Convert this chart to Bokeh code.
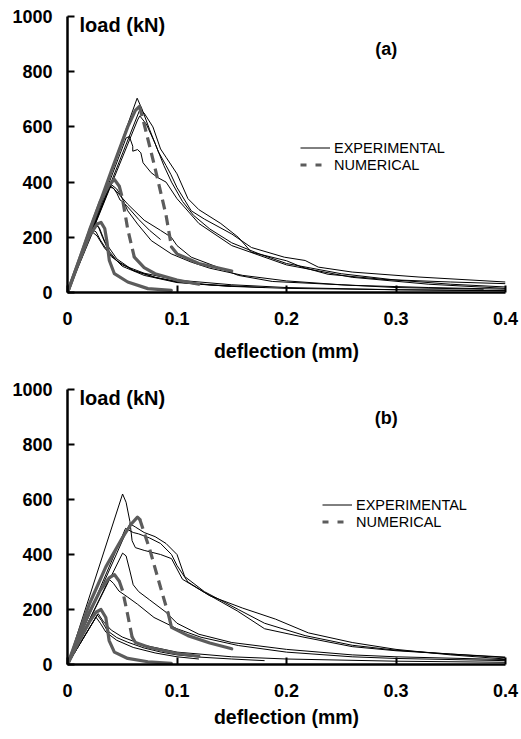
from bokeh.plotting import figure
from bokeh.models import (Range1d, FixedTicker, CustomJSTickFormatter, Label,
                          Legend, LegendItem)
from bokeh.layouts import column
from bokeh.embed import file_html
from bokeh.resources import INLINE

# ---------------- data ----------------
x_ticks = [0, 0.1, 0.2, 0.3, 0.4]
y_ticks = [0, 200, 400, 600, 800, 1000]

# panel (a) experimental
a_exp1_x = [0, 0.0636, 0.068, 0.075, 0.083, 0.09, 0.0945, 0.1, 0.113, 0.125, 0.15, 0.168, 0.198, 0.217, 0.229, 0.26, 0.321, 0.4]
a_exp1_y = [0, 704, 665, 590, 510, 460, 427, 380, 296, 266, 212, 163, 128, 116, 92, 74, 56, 38]
a_exp2_x = [0, 0.066, 0.07, 0.078, 0.085, 0.09, 0.1, 0.11, 0.12, 0.14, 0.156, 0.168, 0.2, 0.214, 0.238, 0.29, 0.35, 0.4]
a_exp2_y = [0, 662, 650, 600, 520, 490, 430, 340, 300, 250, 200, 146, 115, 92, 66, 47, 38, 32]
a_exp3_x = [0, 0.064, 0.066, 0.072, 0.08, 0.088, 0.095, 0.105, 0.115, 0.13, 0.15, 0.175, 0.2, 0.25, 0.3, 0.35, 0.4]
a_exp3_y = [0, 625, 640, 610, 540, 460, 400, 330, 280, 230, 180, 140, 105, 68, 45, 30, 20]
a_exp4_x = [0, 0.0535, 0.0565, 0.0596, 0.0596, 0.064, 0.067, 0.069, 0.0764, 0.0826, 0.09, 0.1, 0.12, 0.15, 0.2, 0.26, 0.33, 0.4]
a_exp4_y = [0, 560, 565, 530, 512, 518, 506, 470, 434, 416, 400, 340, 250, 170, 100, 55, 30, 15]
a_exp5_x = [0, 0.0397, 0.045, 0.0489, 0.055, 0.064, 0.0765, 0.0948, 0.113, 0.13, 0.16, 0.2, 0.25, 0.3, 0.38]
a_exp5_y = [0, 392, 375, 350, 296, 248, 188, 140, 110, 88, 62, 42, 28, 18, 12]
a_exp6_x = [0, 0.038, 0.042, 0.045, 0.048, 0.05, 0.055, 0.065, 0.075, 0.085]
a_exp6_y = [0, 382, 378, 360, 335, 330, 310, 265, 225, 192]
a_exp7_x = [0, 0.036, 0.04, 0.045, 0.055, 0.07, 0.085, 0.0948, 0.1, 0.113, 0.137, 0.156, 0.187, 0.26, 0.33, 0.4]
a_exp7_y = [0, 375, 385, 365, 320, 262, 225, 200, 170, 128, 92, 62, 40, 26, 18, 12]
a_exp8_x = [0, 0.0245, 0.028, 0.032, 0.037, 0.045, 0.06, 0.08, 0.1, 0.13, 0.18]
a_exp8_y = [0, 262, 240, 200, 155, 115, 80, 55, 40, 28, 18]
a_exp9_x = [0, 0.022, 0.026, 0.03, 0.04, 0.05, 0.07, 0.1, 0.15, 0.2, 0.3, 0.4]
a_exp9_y = [0, 228, 220, 190, 130, 100, 70, 45, 28, 18, 10, 6]
a_exp10_x = [0, 0.025, 0.029, 0.034, 0.045, 0.06, 0.08, 0.1, 0.12, 0.15]
a_exp10_y = [0, 245, 235, 185, 122, 80, 55, 38, 30, 22]
a_exp11_x = [0, 0.023, 0.027, 0.034, 0.05, 0.07, 0.1, 0.15, 0.2, 0.3, 0.4]
a_exp11_y = [0, 218, 205, 160, 95, 62, 36, 22, 15, 10, 7]

# panel (a) numerical (sudden drop stretch given by index pair)
a_num1_x = [0, 0.02, 0.04, 0.055, 0.062, 0.0657, 0.07, 0.08, 0.09, 0.095, 0.1, 0.12, 0.15]
a_num1_y = [0, 220, 440, 600, 660, 674, 610, 450, 280, 165, 140, 105, 78]
a_num1_drop = (5, 9)
a_num2_x = [0, 0.01, 0.02, 0.03, 0.038, 0.0428, 0.0473, 0.05, 0.055, 0.061, 0.07, 0.08, 0.1, 0.12]
a_num2_y = [0, 110, 225, 330, 390, 410, 385, 344, 230, 128, 90, 68, 45, 30]
a_num2_drop = (6, 9)
a_num3_x = [0, 0.01, 0.02, 0.027, 0.0306, 0.034, 0.036, 0.0382, 0.0428, 0.055, 0.0734, 0.0948]
a_num3_y = [0, 105, 205, 248, 254, 232, 185, 116, 68, 38, 14, 8]
a_num3_drop = None

# panel (b) experimental
b_exp1_x = [0, 0.0503, 0.0535, 0.057, 0.059, 0.062, 0.07, 0.085, 0.095, 0.105, 0.125, 0.155, 0.18, 0.215, 0.26, 0.3, 0.35, 0.4]
b_exp1_y = [0, 620, 590, 520, 450, 425, 415, 400, 385, 310, 262, 195, 130, 100, 65, 50, 38, 27]
b_exp2_x = [0, 0.057, 0.062, 0.07, 0.08, 0.09, 0.1, 0.107, 0.125, 0.156, 0.18, 0.217, 0.26, 0.3, 0.35, 0.4]
b_exp2_y = [0, 512, 500, 480, 465, 440, 400, 320, 265, 200, 150, 105, 70, 52, 38, 25]
b_exp3_x = [0, 0.053, 0.06, 0.065, 0.075, 0.085, 0.095, 0.1, 0.11, 0.13, 0.16, 0.19, 0.22, 0.26, 0.3, 0.35, 0.4]
b_exp3_y = [0, 495, 480, 475, 460, 440, 400, 360, 300, 250, 205, 165, 115, 80, 55, 35, 20]
b_exp4_x = [0, 0.0503, 0.0535, 0.057, 0.06, 0.065, 0.075, 0.09, 0.1, 0.12, 0.15, 0.2, 0.26, 0.3, 0.4]
b_exp4_y = [0, 405, 395, 340, 290, 265, 235, 190, 150, 110, 80, 55, 35, 28, 18]
b_exp5_x = [0, 0.038, 0.042, 0.047, 0.055, 0.064, 0.079, 0.095, 0.1, 0.122, 0.156, 0.2, 0.26, 0.3, 0.4]
b_exp5_y = [0, 310, 295, 267, 245, 219, 171, 140, 130, 99, 69, 45, 28, 22, 14]
b_exp6_x = [0, 0.0272, 0.031, 0.0364, 0.045, 0.055, 0.07, 0.0856, 0.1, 0.12, 0.15, 0.18]
b_exp6_y = [0, 180, 160, 123, 98, 81, 60, 45, 35, 27, 20, 14]
b_exp7_x = [0, 0.026, 0.03, 0.035, 0.045, 0.06, 0.08, 0.1, 0.12]
b_exp7_y = [0, 172, 150, 118, 88, 62, 42, 28, 20]
b_exp8_x = [0, 0.028, 0.033, 0.04, 0.05, 0.07, 0.1, 0.15, 0.2, 0.3, 0.4]
b_exp8_y = [0, 185, 155, 125, 100, 70, 45, 28, 20, 12, 8]

# panel (b) numerical
b_num1_x = [0, 0.02, 0.035, 0.05, 0.058, 0.0639, 0.066, 0.075, 0.085, 0.092, 0.095, 0.11, 0.13, 0.15]
b_num1_y = [0, 220, 355, 460, 510, 536, 528, 420, 280, 185, 135, 105, 78, 57]
b_num1_drop = (6, 9)
b_num2_x = [0, 0.01, 0.02, 0.03, 0.038, 0.0428, 0.0473, 0.0504, 0.055, 0.059, 0.062, 0.075, 0.1, 0.12]
b_num2_y = [0, 95, 190, 270, 315, 327, 303, 267, 180, 100, 80, 62, 40, 30]
b_num2_drop = (6, 9)
b_num3_x = [0, 0.01, 0.02, 0.026, 0.0306, 0.035, 0.038, 0.0428, 0.055, 0.0734, 0.0948]
b_num3_y = [0, 80, 155, 190, 200, 171, 87, 45, 22, 10, 4]
b_num3_drop = None

FONT = "Liberation Sans"
NUM_COLOR = "#5c5c5c"
NAN = float("nan")


def split_num(xs, ys, drop):
    solid_x, solid_y, dash_x, dash_y = [], [], [], []
    if drop is None:
        solid_x.append(xs); solid_y.append(ys)
    else:
        i0, i1 = drop
        solid_x.append(xs[:i0 + 1]); solid_y.append(ys[:i0 + 1])
        dash_x.append(xs[i0:i1 + 1]); dash_y.append(ys[i0:i1 + 1])
        solid_x.append(xs[i1:]); solid_y.append(ys[i1:])
    return solid_x, solid_y, dash_x, dash_y


def make_panel(exps, nums, tag, tag_y, leg_loc, height, mbt, mbb, label_standoff):
    p = figure(width=519, height=height, x_range=Range1d(0, 0.4), y_range=Range1d(0, 1000),
               output_backend="svg", toolbar_location=None,
               min_border_left=67, min_border_right=14, min_border_top=mbt, min_border_bottom=mbb)
    p.outline_line_color = None
    p.grid.visible = False
    p.background_fill_color = "white"
    p.border_fill_color = "white"

    for ax in (p.xaxis[0], p.yaxis[0]):
        ax.axis_line_width = 2.5
        ax.axis_line_color = "black"
        ax.major_tick_line_width = 2
        ax.major_tick_line_color = "black"
        ax.major_tick_in = 7
        ax.major_tick_out = 0
        ax.minor_tick_line_color = None
        ax.major_label_text_font = FONT
        ax.major_label_text_font_style = "bold"
        ax.major_label_text_font_size = "18px"
        ax.major_label_text_color = "black"

    p.xaxis.ticker = FixedTicker(ticks=x_ticks)
    p.xaxis.formatter = CustomJSTickFormatter(code="return tick === 0 ? '0' : tick.toFixed(1);")
    p.yaxis.ticker = FixedTicker(ticks=y_ticks)
    p.xaxis.major_label_standoff = 19
    p.yaxis.major_label_standoff = 15
    p.xaxis.axis_label = "deflection (mm)"
    p.xaxis.axis_label_text_font = FONT
    p.xaxis.axis_label_text_font_style = "bold"
    p.xaxis.axis_label_text_font_size = "19.5px"
    p.xaxis.axis_label_text_color = "black"
    p.xaxis.axis_label_standoff = label_standoff

    # experimental curves
    ex = [c[0] for c in exps]
    ey = [c[1] for c in exps]
    p.multi_line(xs=ex, ys=ey, line_color="black", line_width=1)

    sx, sy, dx, dy = [], [], [], []
    for xs, ys, drop in nums:
        a, b, c, d = split_num(xs, ys, drop)
        sx += a; sy += b; dx += c; dy += d
    p.multi_line(xs=sx, ys=sy, line_color=NUM_COLOR, line_width=3.2, line_join="round", line_cap="round")
    p.multi_line(xs=dx, ys=dy, line_color=NUM_COLOR, line_width=3.2, line_dash="10 6")

    # legend-only renderers (no visible data)
    r_e = p.line(x=[NAN], y=[NAN], line_color="black", line_width=1)
    r_n = p.line(x=[NAN], y=[NAN], line_color=NUM_COLOR, line_width=3, line_dash="6 9")
    leg = Legend(items=[LegendItem(label="EXPERIMENTAL", renderers=[r_e]),
                        LegendItem(label="NUMERICAL", renderers=[r_n])],
                 location=leg_loc, margin=0, padding=0, spacing=0,
                 glyph_width=30, glyph_height=17, label_height=17, label_standoff=4,
                 label_text_font=FONT, label_text_font_size="14.5px", label_text_color="black",
                 border_line_color=None, background_fill_alpha=0)
    p.add_layout(leg)

    p.add_layout(Label(x=0.011, y=969, text="load (kN)", text_font=FONT, text_font_style="bold",
                       text_font_size="20px", text_baseline="middle", text_color="black"))
    p.add_layout(Label(x=0.291, y=tag_y, text=tag, text_font=FONT, text_font_style="bold",
                       text_font_size="18px", text_baseline="middle", text_align="center",
                       text_color="black"))
    return p


exps_a = [(a_exp1_x, a_exp1_y), (a_exp2_x, a_exp2_y), (a_exp3_x, a_exp3_y), (a_exp4_x, a_exp4_y),
          (a_exp5_x, a_exp5_y), (a_exp6_x, a_exp6_y), (a_exp7_x, a_exp7_y), (a_exp8_x, a_exp8_y),
          (a_exp9_x, a_exp9_y), (a_exp10_x, a_exp10_y), (a_exp11_x, a_exp11_y)]
nums_a = [(a_num1_x, a_num1_y, a_num1_drop), (a_num2_x, a_num2_y, a_num2_drop),
          (a_num3_x, a_num3_y, a_num3_drop)]
exps_b = [(b_exp1_x, b_exp1_y), (b_exp2_x, b_exp2_y), (b_exp3_x, b_exp3_y), (b_exp4_x, b_exp4_y),
          (b_exp5_x, b_exp5_y), (b_exp6_x, b_exp6_y), (b_exp7_x, b_exp7_y), (b_exp8_x, b_exp8_y)]
nums_b = [(b_num1_x, b_num1_y, b_num1_drop), (b_num2_x, b_num2_y, b_num2_drop),
          (b_num3_x, b_num3_y, b_num3_drop)]

p1 = make_panel(exps_a, nums_a, "(a)", 882, (233, 119), 372, 16, 80, 12)
p2 = make_panel(exps_b, nums_b, "(b)", 895, (255, 134), 362, 17, 70, 6)

layout = column(p1, p2)
open("out.html", "w").write(file_html(layout, INLINE))
